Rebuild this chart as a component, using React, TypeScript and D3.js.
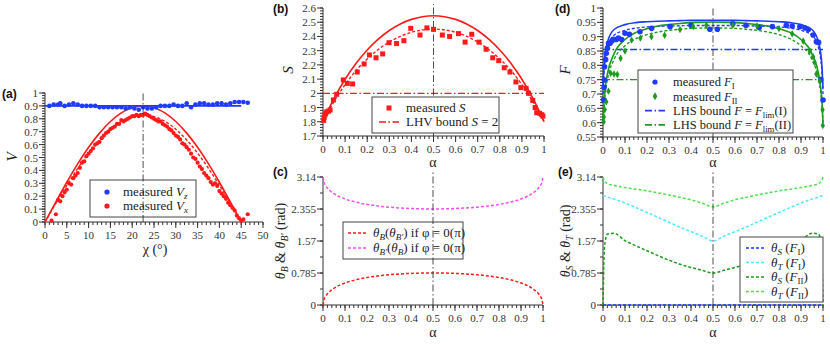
import React from "react";
import * as d3 from "d3";

const SERIF = "'Liberation Serif', 'Times New Roman', serif";
const SANS = "'Liberation Sans', Arial, sans-serif";

const RED = "#ff1a1a";
const BLUE = "#1f3bff";
const GREEN = "#1e9a1e";
const LGREEN = "#4de34d";
const CYAN = "#4de8ff";
const MAGENTA = "#f44ff4";

// ---- (a) visibility vs chi
const CHI_GRID = [0, 2.5, 5, 7.5, 10, 12.5, 15, 17.5, 20, 22.5, 25, 27.5, 30, 32.5, 35, 37.5, 40, 42.5, 45];
const VX_THEORY = [0, 0.156, 0.308, 0.45, 0.579, 0.689, 0.779, 0.846, 0.886, 0.9, 0.886, 0.846, 0.779, 0.689, 0.579, 0.45, 0.308, 0.156, 0];
const VX_FIT = [0, 0.144, 0.284, 0.415, 0.534, 0.636, 0.719, 0.78, 0.817, 0.83, 0.817, 0.78, 0.719, 0.636, 0.534, 0.415, 0.284, 0.144, 0];
const VZ_LINE_CHI = [0, 45];
const VZ_LINE = [0.9, 0.9];
const VZ_CHI = [1, 2, 3, 3.5, 4.5, 5.5, 6.5, 7.5, 8.5, 9.5, 10.5, 11.5, 12.5, 13.5, 14.5, 15.5, 16.5, 17.5, 18.5, 19.5, 20.5, 21.5, 22.5, 23.5, 24.5, 25.5, 26.5, 27.5, 28.5, 29.5, 30.5, 31.5, 32.5, 33.5, 34.5, 35.5, 36.5, 37.5, 38.5, 39.5, 40.5, 41.5, 42.5, 43.5, 44.5, 45.5, 46.5];
const VZ_MEAS = [0.9, 0.91, 0.91, 0.92, 0.9, 0.91, 0.92, 0.91, 0.9, 0.9, 0.9, 0.9, 0.89, 0.89, 0.89, 0.89, 0.89, 0.89, 0.88, 0.89, 0.88, 0.87, 0.89, 0.88, 0.88, 0.89, 0.9, 0.9, 0.9, 0.91, 0.9, 0.9, 0.92, 0.89, 0.91, 0.92, 0.92, 0.91, 0.91, 0.92, 0.92, 0.91, 0.92, 0.93, 0.93, 0.93, 0.925];
const VX_CHI = [1.5, 2.5, 3, 3.5, 4, 4.5, 5, 5.5, 6, 6.5, 7, 7.5, 8, 8.5, 9, 9.5, 10, 10.5, 11, 11.5, 12, 12.5, 13, 13.5, 14, 14.5, 15, 15.5, 16, 16.5, 17, 17.5, 18, 18.5, 19, 19.5, 20, 20.5, 21, 21.5, 22, 22.5, 23, 23.5, 24, 24.5, 25, 25.5, 26, 26.5, 27, 27.5, 28, 28.5, 29, 29.5, 30, 30.5, 31, 31.5, 32, 32.5, 33, 33.5, 34, 34.5, 35, 35.5, 36, 36.5, 37, 37.5, 38, 38.5, 39, 39.5, 40, 40.5, 41, 41.5, 42, 42.5, 43, 43.5, 44, 44.5, 45, 45.5, 46.5];
const VX_MEAS = [0.01, 0.06, 0.17, 0.16, 0.2, 0.23, 0.25, 0.3, 0.29, 0.34, 0.36, 0.38, 0.42, 0.46, 0.47, 0.51, 0.53, 0.55, 0.57, 0.6, 0.61, 0.62, 0.65, 0.67, 0.69, 0.7, 0.72, 0.73, 0.74, 0.76, 0.76, 0.79, 0.78, 0.79, 0.8, 0.81, 0.82, 0.82, 0.83, 0.82, 0.83, 0.83, 0.84, 0.83, 0.82, 0.81, 0.8, 0.79, 0.78, 0.78, 0.76, 0.75, 0.74, 0.72, 0.71, 0.69, 0.67, 0.66, 0.64, 0.61, 0.6, 0.58, 0.56, 0.53, 0.5, 0.49, 0.46, 0.43, 0.41, 0.38, 0.36, 0.34, 0.31, 0.29, 0.3, 0.28, 0.24, 0.22, 0.2, 0.18, 0.15, 0.13, 0.11, 0.09, 0.05, 0.03, 0.01, 0.02, 0.06];

// ---- alpha grid for theory curves
const ALPHA = [0, 0.005, 0.01, 0.02, 0.05, 0.1, 0.15, 0.2, 0.25, 0.3, 0.35, 0.4, 0.45, 0.5, 0.55, 0.6, 0.65, 0.7, 0.75, 0.8, 0.85, 0.9, 0.95, 0.98, 0.99, 0.995, 1];

// ---- (b) CHSH S
const S_THEORY = [1.8, 1.818, 1.835, 1.869, 1.964, 2.099, 2.212, 2.305, 2.381, 2.442, 2.488, 2.52, 2.539, 2.546, 2.539, 2.52, 2.488, 2.442, 2.381, 2.305, 2.212, 2.099, 1.964, 1.869, 1.835, 1.818, 1.8];
const S_FIT = [1.8, 1.816, 1.83, 1.859, 1.943, 2.061, 2.161, 2.242, 2.308, 2.361, 2.401, 2.429, 2.446, 2.452, 2.446, 2.429, 2.401, 2.361, 2.308, 2.242, 2.161, 2.061, 1.943, 1.859, 1.83, 1.816, 1.8];
const S_ALPHA = [0.003, 0.005, 0.009, 0.012, 0.017, 0.025, 0.032, 0.047, 0.062, 0.092, 0.11, 0.134, 0.155, 0.186, 0.21, 0.24, 0.27, 0.299, 0.333, 0.366, 0.397, 0.439, 0.47, 0.5, 0.54, 0.573, 0.613, 0.643, 0.673, 0.706, 0.738, 0.768, 0.795, 0.82, 0.846, 0.873, 0.895, 0.919, 0.93, 0.949, 0.96, 0.967, 0.98, 0.99, 0.995];
const S_MEAS = [1.81, 1.83, 1.848, 1.86, 1.87, 1.875, 1.883, 1.953, 1.993, 2.094, 2.07, 2.066, 2.15, 2.206, 2.27, 2.25, 2.277, 2.356, 2.35, 2.37, 2.457, 2.41, 2.46, 2.45, 2.41, 2.4, 2.42, 2.36, 2.415, 2.36, 2.31, 2.25, 2.23, 2.18, 2.15, 2.08, 2.04, 2.035, 2.0, 1.95, 1.9, 1.864, 1.86, 1.85, 1.84];
const S_LHV = 2;

// ---- (c) measurement angles
const THETA_B = [0, 0.14, 0.196, 0.273, 0.411, 0.54, 0.62, 0.675, 0.714, 0.742, 0.762, 0.775, 0.783, 0.785, 0.783, 0.775, 0.762, 0.742, 0.714, 0.675, 0.62, 0.54, 0.411, 0.273, 0.196, 0.14, 0];
const THETA_BP = [3.14, 3.0, 2.946, 2.869, 2.731, 2.602, 2.522, 2.467, 2.428, 2.4, 2.38, 2.367, 2.359, 2.356, 2.359, 2.367, 2.38, 2.4, 2.428, 2.467, 2.522, 2.602, 2.731, 2.869, 2.946, 3.0, 3.14];

// ---- (d) steering fidelity F
const FI_THEORY = [0.72, 0.8, 0.84, 0.88, 0.925, 0.942, 0.949, 0.952, 0.954, 0.955, 0.956, 0.957, 0.957, 0.957, 0.957, 0.957, 0.956, 0.955, 0.954, 0.952, 0.949, 0.942, 0.925, 0.88, 0.84, 0.8, 0.72];
const FI_FIT = [0.7, 0.78, 0.82, 0.86, 0.905, 0.922, 0.93, 0.934, 0.936, 0.937, 0.938, 0.939, 0.939, 0.939, 0.939, 0.939, 0.938, 0.937, 0.936, 0.934, 0.93, 0.922, 0.905, 0.86, 0.82, 0.78, 0.7];
const FII_THEORY = [0.6, 0.68, 0.72, 0.77, 0.84, 0.89, 0.915, 0.928, 0.937, 0.942, 0.946, 0.949, 0.95, 0.951, 0.95, 0.949, 0.946, 0.942, 0.937, 0.928, 0.915, 0.89, 0.84, 0.77, 0.72, 0.68, 0.6];
const FII_FIT = [0.6, 0.66, 0.7, 0.75, 0.82, 0.868, 0.893, 0.907, 0.916, 0.922, 0.926, 0.929, 0.93, 0.931, 0.93, 0.929, 0.926, 0.922, 0.916, 0.907, 0.893, 0.868, 0.82, 0.75, 0.7, 0.66, 0.6];
const FI_ALPHA = [0.003, 0.005, 0.006, 0.007, 0.012, 0.015, 0.02, 0.025, 0.032, 0.04, 0.047, 0.06, 0.07, 0.085, 0.1, 0.12, 0.168, 0.221, 0.305, 0.4, 0.486, 0.52, 0.59, 0.65, 0.71, 0.77, 0.833, 0.86, 0.895, 0.918, 0.933, 0.955, 0.97, 0.98, 0.99, 1.0];
const FI_MEAS = [0.68, 0.723, 0.749, 0.795, 0.82, 0.842, 0.86, 0.877, 0.877, 0.885, 0.891, 0.89, 0.895, 0.89, 0.912, 0.908, 0.917, 0.929, 0.935, 0.94, 0.926, 0.926, 0.945, 0.94, 0.932, 0.935, 0.94, 0.937, 0.935, 0.93, 0.925, 0.906, 0.882, 0.88, 0.75, 0.679];
const FII_ALPHA = [0.003, 0.004, 0.008, 0.015, 0.025, 0.035, 0.05, 0.065, 0.08, 0.1, 0.13, 0.17, 0.22, 0.28, 0.35, 0.41, 0.47, 0.59, 0.7, 0.8, 0.86, 0.91, 0.94, 0.955, 0.962, 0.97, 0.985, 0.998, 0.999];
const FII_MEAS = [0.603, 0.62, 0.645, 0.673, 0.71, 0.772, 0.77, 0.768, 0.825, 0.85, 0.888, 0.895, 0.9, 0.905, 0.925, 0.935, 0.94, 0.94, 0.937, 0.928, 0.91, 0.885, 0.85, 0.83, 0.81, 0.77, 0.745, 0.645, 0.59];
const F_LIM_I = 0.855;
const F_LIM_II = 0.75;

// ---- (e) steering angles
const THS_FI = [0, 0, 0, 0, 0, 0, 0, 0, 0, 0, 0, 0, 0, 0, 0, 0, 0, 0, 0, 0, 0, 0, 0, 0, 0, 0, 0];
const THT_FI = [2.68, 2.675, 2.67, 2.65, 2.6, 2.5, 2.39, 2.27, 2.15, 2.03, 1.91, 1.8, 1.69, 1.57, 1.69, 1.8, 1.91, 2.03, 2.15, 2.27, 2.39, 2.5, 2.6, 2.65, 2.67, 2.675, 2.68];
const THS_FII = [0, 1.2, 1.55, 1.74, 1.76, 1.58, 1.45, 1.33, 1.21, 1.1, 1.0, 0.92, 0.85, 0.785, 0.85, 0.92, 1.0, 1.1, 1.21, 1.33, 1.45, 1.58, 1.76, 1.74, 1.55, 1.2, 0];
const THT_FII = [3.14, 3.06, 3.02, 2.98, 2.93, 2.88, 2.84, 2.8, 2.75, 2.7, 2.64, 2.58, 2.5, 2.41, 2.5, 2.58, 2.64, 2.7, 2.75, 2.8, 2.84, 2.88, 2.93, 2.98, 3.02, 3.06, 3.14];

const PI_TICKS = [0, 0.785, 1.57, 2.355, 3.14];
const PI_TICK_LABELS = ["0", "0.785", "1.57", "2.355", "3.14"];

type Lin = d3.ScaleLinear<number, number>;

function rangeTicks(a: number, b: number, step: number) {
  return d3.range(0, Math.round((b - a) / step) + 1).map((i) => +(a + i * step).toFixed(6));
}

function Axes({ x, y, xMajor, xMinor, yMajor, yMinor, yLabels }: {
  x: Lin; y: Lin; xMajor: number[]; xMinor: number[]; yMajor: number[]; yMinor: number[]; yLabels?: string[];
}) {
  const [x0, x1] = x.range();
  const [y0, y1] = y.range();
  const c = "#333";
  return (
    <g stroke={c} strokeWidth={1} fontFamily={SERIF} fontSize={11}>
      <line x1={x0} x2={x1} y1={y0} y2={y0} />
      <line x1={x0} x2={x0} y1={y0} y2={y1} />
      {xMinor.map((t, i) => <line key={"xm" + i} x1={x(t)} x2={x(t)} y1={y0} y2={y0 + 3} />)}
      {xMajor.map((t, i) => <line key={"xM" + i} x1={x(t)} x2={x(t)} y1={y0} y2={y0 + 6} />)}
      {yMinor.map((t, i) => <line key={"ym" + i} x1={x0} x2={x0 - 3} y1={y(t)} y2={y(t)} />)}
      {yMajor.map((t, i) => <line key={"yM" + i} x1={x0} x2={x0 - 6} y1={y(t)} y2={y(t)} />)}
      {xMajor.map((t, i) => (
        <text key={"xl" + i} x={x(t)} y={y0 + 17} textAnchor="middle" stroke="none" fill={c}>
          {d3.format("~g")(t)}
        </text>
      ))}
      {yMajor.map((t, i) => (
        <text key={"yl" + i} x={x0 - 7} y={y(t) + 4} textAnchor="end" stroke="none" fill={c}>
          {yLabels ? yLabels[i] : d3.format("~g")(t)}
        </text>
      ))}
    </g>
  );
}

function curve(x: Lin, y: Lin, xs: number[], ys: number[]) {
  const pts: [number, number][] = xs.map((v, i) => [v, ys[i]]);
  return d3.line<[number, number]>().x((d) => x(d[0])).y((d) => y(d[1])).curve(d3.curveMonotoneX)(pts) || "";
}

const DASH = "3,2";
const DASHDOT = "7,2.5,1.5,2.5";

// subscript via baseline-shift so following text returns to the baseline
function Sub({ children, it }: { children: React.ReactNode; it?: boolean }) {
  return <tspan fontSize="0.7em" baselineShift="-3" fontStyle={it ? "italic" : "normal"}>{children}</tspan>;
}
function I({ children }: { children: React.ReactNode }) {
  return <tspan fontStyle="italic">{children}</tspan>;
}

type Item = { kind: "dot" | "square" | "diamond" | "line"; color: string; dash?: string; label: React.ReactNode };

function Legend({ x, y, w, h, items, rowH, first, symX, textX, fs = 13 }: {
  x: number; y: number; w: number; h: number; items: Item[]; rowH: number; first: number; symX: number; textX: number; fs?: number;
}) {
  return (
    <g>
      <rect x={x} y={y} width={w} height={h} fill="#fff" stroke="#444" strokeWidth={1} />
      {items.map((it, i) => {
        const cy = y + first + i * rowH;
        let sym: React.ReactNode = null;
        if (it.kind === "dot") sym = <circle cx={x + symX} cy={cy} r={2.6} fill={it.color} />;
        if (it.kind === "square") sym = <rect x={x + symX - 2.5} y={cy - 2.5} width={5} height={5} fill={it.color} />;
        if (it.kind === "diamond") sym = <path transform={`translate(${x + symX},${cy})`} d={d3.symbol(d3.symbolDiamond, 18)() || ""} fill={it.color} />;
        if (it.kind === "line") sym = <line x1={x + symX - 10} x2={x + symX + 10} y1={cy} y2={cy} stroke={it.color} strokeWidth={1.6} strokeDasharray={it.dash} />;
        return (
          <g key={i}>
            {sym}
            <text x={x + textX} y={cy + 4.3} fontFamily={SERIF} fontSize={fs} fill="#222">{it.label}</text>
          </g>
        );
      })}
    </g>
  );
}

function VLine({ x, y, at, lo, hi }: { x: Lin; y: Lin; at: number; lo: number; hi: number }) {
  return <line x1={x(at)} x2={x(at)} y1={y(lo)} y2={hi} stroke="#222" strokeWidth={0.8} strokeDasharray={DASHDOT} />;
}

function PanelA() {
  const x = d3.scaleLinear().domain([0, 50]).range([45, 263]);
  const y = d3.scaleLinear().domain([0, 1]).range([222, 93]);
  return (
    <g>
      <Axes x={x} y={y} xMajor={rangeTicks(0, 50, 5)} xMinor={rangeTicks(0, 50, 1)} yMajor={rangeTicks(0, 1, 0.1)} yMinor={rangeTicks(0, 1, 0.02)} />
      <path d={curve(x, y, CHI_GRID, VX_THEORY)} fill="none" stroke={RED} strokeWidth={1.6} />
      <path d={curve(x, y, CHI_GRID, VX_FIT)} fill="none" stroke={RED} strokeWidth={1.4} strokeDasharray={DASH} />
      <path d={curve(x, y, VZ_LINE_CHI, VZ_LINE)} fill="none" stroke={BLUE} strokeWidth={1.6} />
      {VX_CHI.map((c, i) => <circle key={"vx" + i} cx={x(c)} cy={y(VX_MEAS[i])} r={2.1} fill={RED} />)}
      {VZ_CHI.map((c, i) => <circle key={"vz" + i} cx={x(c)} cy={y(VZ_MEAS[i])} r={2.3} fill={BLUE} />)}
      <Legend x={90} y={180} w={106} h={37} rowH={14} first={12} symX={17} textX={33}
        items={[
          { kind: "dot", color: BLUE, label: <>measured <I>V</I><Sub it>z</Sub></> },
          { kind: "dot", color: RED, label: <>measured <I>V</I><Sub it>x</Sub></> },
        ]} />
      <VLine x={x} y={y} at={22.5} lo={0} hi={93} />
      <text transform="translate(17,157) rotate(-90)" textAnchor="middle" fontFamily={SERIF} fontStyle="italic" fontSize={15} fill="#222">V</text>
      <text x={155} y={254} textAnchor="middle" fontFamily={SERIF} fontSize={14} fill="#222">χ (°)</text>
      <text x={2} y={98} fontFamily={SANS} fontWeight="bold" fontSize={12} fill="#111">(a)</text>
    </g>
  );
}

function PanelB() {
  const x = d3.scaleLinear().domain([0, 1]).range([323, 544]);
  const y = d3.scaleLinear().domain([1.7, 2.6]).range([136, 8]);
  return (
    <g>
      <Axes x={x} y={y} xMajor={rangeTicks(0, 1, 0.1)} xMinor={rangeTicks(0, 1, 0.02)} yMajor={rangeTicks(1.7, 2.6, 0.1)} yMinor={rangeTicks(1.7, 2.6, 0.02)} />
      <path d={curve(x, y, ALPHA, S_THEORY)} fill="none" stroke={RED} strokeWidth={1.6} />
      <path d={curve(x, y, ALPHA, S_FIT)} fill="none" stroke={RED} strokeWidth={1.4} strokeDasharray={DASH} />
      <path d={curve(x, y, [0, 1], [S_LHV, S_LHV])} fill="none" stroke={RED} strokeWidth={1.4} strokeDasharray={DASHDOT} />
      <VLine x={x} y={y} at={0.5} lo={1.7} hi={4} />
      {S_ALPHA.map((a, i) => <rect key={"s" + i} x={x(a) - 2.5} y={y(S_MEAS[i]) - 2.5} width={5} height={5} fill={RED} />)}
      <Legend x={372} y={97} w={127} h={36} rowH={14} first={11} symX={17} textX={34}
        items={[
          { kind: "square", color: RED, label: <>measured <I>S</I></> },
          { kind: "line", color: RED, dash: DASHDOT, label: <>LHV bound <I>S</I> = 2</> },
        ]} />
      <text transform="translate(293,70) rotate(-90)" textAnchor="middle" fontFamily={SERIF} fontStyle="italic" fontSize={15} fill="#222">S</text>
      <text x={433} y={167} textAnchor="middle" fontFamily={SERIF} fontSize={14} fill="#222">α</text>
      <text x={273} y={13} fontFamily={SANS} fontWeight="bold" fontSize={12} fill="#111">(b)</text>
    </g>
  );
}

function PanelC() {
  const x = d3.scaleLinear().domain([0, 1]).range([323, 543]);
  const y = d3.scaleLinear().domain([0, 3.14]).range([305, 177]);
  return (
    <g>
      <Axes x={x} y={y} xMajor={rangeTicks(0, 1, 0.1)} xMinor={rangeTicks(0, 1, 0.02)} yMajor={PI_TICKS} yMinor={rangeTicks(0, 3.14, 0.3925)} yLabels={PI_TICK_LABELS} />
      <path d={curve(x, y, ALPHA, THETA_B)} fill="none" stroke={RED} strokeWidth={1.5} strokeDasharray={DASH} />
      <path d={curve(x, y, ALPHA, THETA_BP)} fill="none" stroke={MAGENTA} strokeWidth={1.5} strokeDasharray={DASH} />
      <Legend x={343} y={222} w={120} h={37} rowH={15} first={11} symX={15} textX={30}
        items={[
          { kind: "line", color: RED, dash: DASH, label: <><I>θ</I><Sub it>B</Sub>(<I>θ</I><Sub it>B′</Sub>) if φ = 0(π)</> },
          { kind: "line", color: MAGENTA, dash: DASH, label: <><I>θ</I><Sub it>B′</Sub>(<I>θ</I><Sub it>B</Sub>) if φ = 0(π)</> },
        ]} />
      <VLine x={x} y={y} at={0.5} lo={0} hi={171} />
      <text transform="translate(285,241) rotate(-90)" textAnchor="middle" fontFamily={SERIF} fontSize={14} fill="#222">
        <I>θ</I><Sub it>B</Sub> &amp; <I>θ</I><Sub it>B′</Sub> (rad)
      </text>
      <text x={433} y={337} textAnchor="middle" fontFamily={SERIF} fontSize={14} fill="#222">α</text>
      <text x={273} y={176} fontFamily={SANS} fontWeight="bold" fontSize={12} fill="#111">(c)</text>
    </g>
  );
}

function PanelD() {
  const x = d3.scaleLinear().domain([0, 1]).range([603, 823]);
  const y = d3.scaleLinear().domain([0.55, 1]).range([137, 8]);
  const dia = d3.symbol(d3.symbolDiamond, 16)() || "";
  return (
    <g>
      <Axes x={x} y={y} xMajor={rangeTicks(0, 1, 0.1)} xMinor={rangeTicks(0, 1, 0.02)} yMajor={rangeTicks(0.55, 1, 0.05)} yMinor={rangeTicks(0.55, 1, 0.01)} />
      <path d={curve(x, y, [0, 1], [F_LIM_I, F_LIM_I])} fill="none" stroke={BLUE} strokeWidth={1.4} strokeDasharray={DASHDOT} />
      <path d={curve(x, y, [0, 1], [F_LIM_II, F_LIM_II])} fill="none" stroke={GREEN} strokeWidth={1.4} strokeDasharray={DASHDOT} />
      <path d={curve(x, y, ALPHA, FI_THEORY)} fill="none" stroke={BLUE} strokeWidth={1.6} />
      <path d={curve(x, y, ALPHA, FI_FIT)} fill="none" stroke={BLUE} strokeWidth={1.4} strokeDasharray={DASH} />
      <path d={curve(x, y, ALPHA, FII_THEORY)} fill="none" stroke={GREEN} strokeWidth={1.6} />
      <path d={curve(x, y, ALPHA, FII_FIT)} fill="none" stroke={GREEN} strokeWidth={1.4} strokeDasharray={DASH} />
      <VLine x={x} y={y} at={0.5} lo={0.55} hi={8} />
      {FI_ALPHA.map((a, i) => <circle key={"fi" + i} cx={x(a)} cy={y(FI_MEAS[i])} r={2.8} fill={BLUE} />)}
      {FII_ALPHA.map((a, i) => <path key={"fii" + i} transform={`translate(${x(a)},${y(FII_MEAS[i])})`} d={dia} fill={GREEN} />)}
      <Legend x={638} y={70} w={155} h={63} rowH={14.3} first={12} symX={17} textX={35} fs={12.5}
        items={[
          { kind: "dot", color: BLUE, label: <>measured <I>F</I><Sub>I</Sub></> },
          { kind: "diamond", color: GREEN, label: <>measured <I>F</I><Sub>II</Sub></> },
          { kind: "line", color: BLUE, dash: DASHDOT, label: <>LHS bound <I>F</I> = <I>F</I><Sub>lim</Sub>(I)</> },
          { kind: "line", color: GREEN, dash: DASHDOT, label: <>LHS bound <I>F</I> = <I>F</I><Sub>lim</Sub>(II)</> },
        ]} />
      <text transform="translate(570,70) rotate(-90)" textAnchor="middle" fontFamily={SERIF} fontStyle="italic" fontSize={15} fill="#222">F</text>
      <text x={713} y={167} textAnchor="middle" fontFamily={SERIF} fontSize={14} fill="#222">α</text>
      <text x={555} y={13} fontFamily={SANS} fontWeight="bold" fontSize={12} fill="#111">(d)</text>
    </g>
  );
}

function PanelE() {
  const x = d3.scaleLinear().domain([0, 1]).range([603, 823]);
  const y = d3.scaleLinear().domain([0, 3.14]).range([305, 177]);
  return (
    <g>
      <Axes x={x} y={y} xMajor={rangeTicks(0, 1, 0.1)} xMinor={rangeTicks(0, 1, 0.02)} yMajor={PI_TICKS} yMinor={rangeTicks(0, 3.14, 0.3925)} yLabels={PI_TICK_LABELS} />
      <path d={curve(x, y, ALPHA, THT_FII)} fill="none" stroke={LGREEN} strokeWidth={1.5} strokeDasharray={DASH} />
      <path d={curve(x, y, ALPHA, THT_FI)} fill="none" stroke={CYAN} strokeWidth={1.5} strokeDasharray={DASH} />
      <path d={curve(x, y, ALPHA, THS_FII)} fill="none" stroke={GREEN} strokeWidth={1.5} strokeDasharray={DASH} />
      <path d={curve(x, y, ALPHA, THS_FI)} fill="none" stroke={BLUE} strokeWidth={1.5} strokeDasharray={DASH} />
      <VLine x={x} y={y} at={0.5} lo={0} hi={171} />
      <Legend x={740} y={237} w={83} h={65} rowH={14.5} first={11} symX={16} textX={31}
        items={[
          { kind: "line", color: BLUE, dash: DASH, label: <><I>θ</I><Sub it>S</Sub> (<I>F</I><Sub>I</Sub>)</> },
          { kind: "line", color: CYAN, dash: DASH, label: <><I>θ</I><Sub it>T</Sub> (<I>F</I><Sub>I</Sub>)</> },
          { kind: "line", color: GREEN, dash: DASH, label: <><I>θ</I><Sub it>S</Sub> (<I>F</I><Sub>II</Sub>)</> },
          { kind: "line", color: LGREEN, dash: DASH, label: <><I>θ</I><Sub it>T</Sub> (<I>F</I><Sub>II</Sub>)</> },
        ]} />
      <text transform="translate(570,241) rotate(-90)" textAnchor="middle" fontFamily={SERIF} fontSize={14} fill="#222">
        <I>θ</I><Sub it>S</Sub> &amp; <I>θ</I><Sub it>T</Sub> (rad)
      </text>
      <text x={713} y={337} textAnchor="middle" fontFamily={SERIF} fontSize={14} fill="#222">α</text>
      <text x={558} y={176} fontFamily={SANS} fontWeight="bold" fontSize={12} fill="#111">(e)</text>
    </g>
  );
}

export default function App() {
  return (
    <svg width={830} height={345} style={{ position: "absolute", left: 0, top: 0, background: "#fff" }}>
      <PanelA />
      <PanelB />
      <PanelC />
      <PanelD />
      <PanelE />
    </svg>
  );
}
